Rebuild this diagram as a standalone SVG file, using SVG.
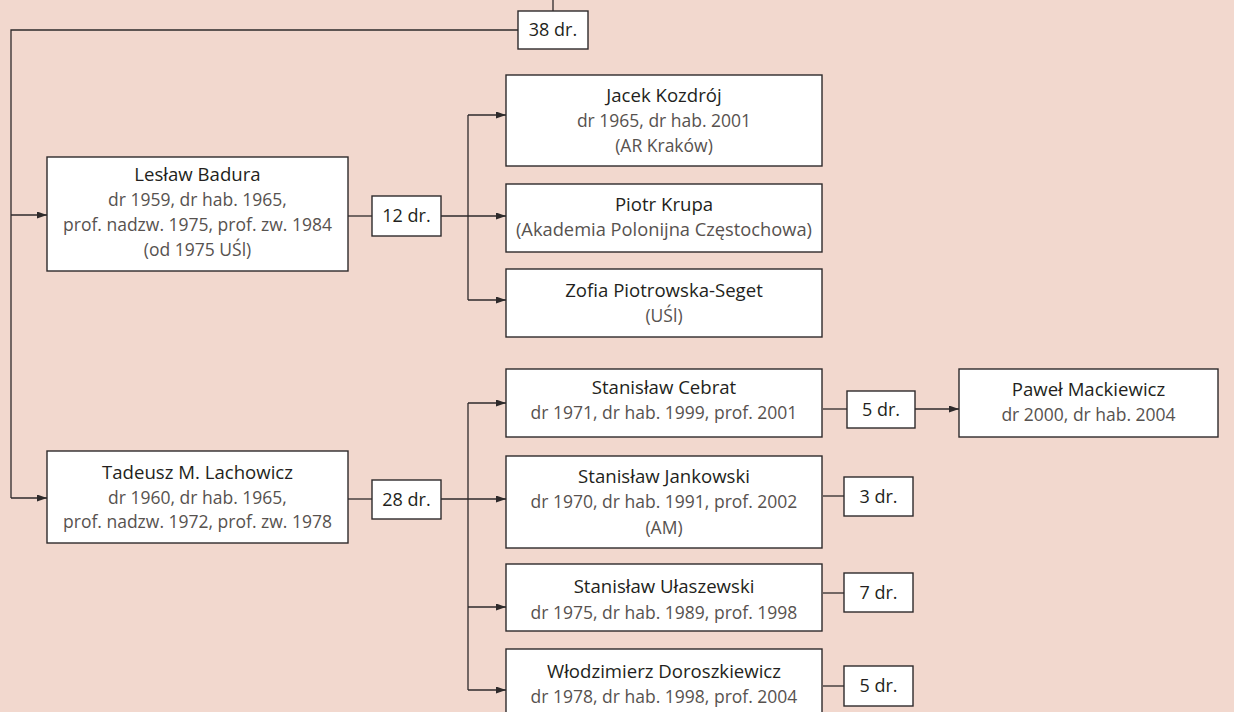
<svg xmlns="http://www.w3.org/2000/svg" width="1234" height="712" viewBox="0 0 1234 712">
  <defs>
    <marker id="arr" markerWidth="10" markerHeight="7" refX="10" refY="3.5" orient="auto" markerUnits="userSpaceOnUse">
      <path d="M0,0 L10,3.5 L0,7 z" fill="#2e2a2b"/>
    </marker>
    <style>
      .box { fill: #ffffff; stroke: #2e2a2b; stroke-width: 1.4; }
      .ln { fill: none; stroke: #2e2a2b; stroke-width: 1.3; }
      .ar { fill: none; stroke: #2e2a2b; stroke-width: 1.3; marker-end: url(#arr); }
      text { font-family: "Open Sans", "Noto Sans", "Liberation Sans", sans-serif; text-anchor: middle; }
      .nm { font-size: 18.6px; fill: #231f20; }
      .dt { font-size: 17.5px; fill: #57524f; }
      .ct { font-size: 18px; fill: #231f20; }
    </style>
  </defs>

  <rect x="0" y="0" width="1234" height="712" fill="#f2d8ce"/>

  <!-- connectors -->
  <g id="connectors">
    <path class="ln" d="M553,0 V11"/>
    <path class="ln" d="M518,30 H11 V498"/>
    <path class="ar" d="M11,215 H47"/>
    <path class="ar" d="M11,498 H47"/>

    <path class="ln" d="M348,216 H372"/>
    <path class="ar" d="M441,216 H506"/>
    <path class="ln" d="M468,115 V300"/>
    <path class="ar" d="M468,115 H506"/>
    <path class="ar" d="M468,300 H506"/>

    <path class="ln" d="M348,499 H372"/>
    <path class="ar" d="M441,499 H506"/>
    <path class="ln" d="M468,403 V690"/>
    <path class="ar" d="M468,403 H506"/>
    <path class="ar" d="M468,607 H506"/>
    <path class="ar" d="M468,690 H506"/>

    <path class="ln" d="M823,409 H847"/>
    <path class="ar" d="M915,409 H959"/>
    <path class="ln" d="M823,496 H844"/>
    <path class="ln" d="M823,593 H844"/>
    <path class="ln" d="M823,686 H844"/>
  </g>

  <!-- count boxes -->
  <g id="count-38">
    <rect class="box" x="518" y="11" width="70" height="38"/>
    <text class="ct" x="553" y="36">38 dr.</text>
  </g>
  <g id="count-12">
    <rect class="box" x="372" y="196" width="69" height="40"/>
    <text class="ct" x="406.5" y="222">12 dr.</text>
  </g>
  <g id="count-28">
    <rect class="box" x="372" y="480" width="69" height="39"/>
    <text class="ct" x="406.5" y="506">28 dr.</text>
  </g>
  <g id="count-cebrat">
    <rect class="box" x="847" y="391" width="68" height="37"/>
    <text class="ct" x="881" y="416">5 dr.</text>
  </g>
  <g id="count-jankowski">
    <rect class="box" x="844" y="477" width="69" height="39"/>
    <text class="ct" x="878.5" y="503">3 dr.</text>
  </g>
  <g id="count-ulaszewski">
    <rect class="box" x="844" y="573" width="69" height="39"/>
    <text class="ct" x="878.5" y="599">7 dr.</text>
  </g>
  <g id="count-doroszkiewicz">
    <rect class="box" x="844" y="666" width="69" height="40"/>
    <text class="ct" x="878.5" y="692">5 dr.</text>
  </g>

  <!-- people -->
  <g id="badura">
    <rect class="box" x="47" y="157" width="301" height="114"/>
    <text class="nm" x="197.5" y="181">Lesław Badura</text>
    <text class="dt" x="197.5" y="206">dr 1959, dr hab. 1965,</text>
    <text class="dt" x="197.5" y="231">prof. nadzw. 1975, prof. zw. 1984</text>
    <text class="dt" x="197.5" y="256">(od 1975 UŚl)</text>
  </g>
  <g id="lachowicz">
    <rect class="box" x="47" y="451" width="301" height="92"/>
    <text class="nm" x="197.5" y="479">Tadeusz M. Lachowicz</text>
    <text class="dt" x="197.5" y="504">dr 1960, dr hab. 1965,</text>
    <text class="dt" x="197.5" y="528">prof. nadzw. 1972, prof. zw. 1978</text>
  </g>

  <g id="kozdroj">
    <rect class="box" x="506" y="75" width="316" height="91"/>
    <text class="nm" x="664" y="102">Jacek Kozdrój</text>
    <text class="dt" x="664" y="127">dr 1965, dr hab. 2001</text>
    <text class="dt" x="664" y="152">(AR Kraków)</text>
  </g>
  <g id="krupa">
    <rect class="box" x="506" y="184" width="316" height="68"/>
    <text class="nm" x="664" y="211">Piotr Krupa</text>
    <text class="dt" x="664" y="236" style="font-size:18.3px">(Akademia Polonijna Częstochowa)</text>
  </g>
  <g id="piotrowska-seget">
    <rect class="box" x="506" y="269" width="316" height="68"/>
    <text class="nm" x="664" y="297">Zofia Piotrowska-Seget</text>
    <text class="dt" x="664" y="322">(UŚl)</text>
  </g>

  <g id="cebrat">
    <rect class="box" x="506" y="369" width="316" height="68"/>
    <text class="nm" x="664" y="394">Stanisław Cebrat</text>
    <text class="dt" x="664" y="419">dr 1971, dr hab. 1999, prof. 2001</text>
  </g>
  <g id="mackiewicz">
    <rect class="box" x="959" y="369" width="259" height="68"/>
    <text class="nm" x="1088.5" y="396">Paweł Mackiewicz</text>
    <text class="dt" x="1088.5" y="421">dr 2000, dr hab. 2004</text>
  </g>
  <g id="jankowski">
    <rect class="box" x="506" y="456" width="316" height="92"/>
    <text class="nm" x="664" y="483">Stanisław Jankowski</text>
    <text class="dt" x="664" y="508">dr 1970, dr hab. 1991, prof. 2002</text>
    <text class="dt" x="664" y="534">(AM)</text>
  </g>
  <g id="ulaszewski">
    <rect class="box" x="506" y="564" width="316" height="67"/>
    <text class="nm" x="664" y="593">Stanisław Ułaszewski</text>
    <text class="dt" x="664" y="619">dr 1975, dr hab. 1989, prof. 1998</text>
  </g>
  <g id="doroszkiewicz">
    <rect class="box" x="506" y="649" width="316" height="70"/>
    <text class="nm" x="664" y="678">Włodzimierz Doroszkiewicz</text>
    <text class="dt" x="664" y="703">dr 1978, dr hab. 1998, prof. 2004</text>
  </g>
</svg>
